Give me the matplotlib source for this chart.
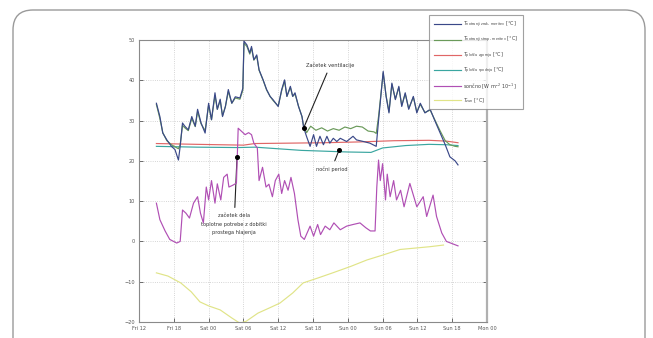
import matplotlib
matplotlib.use("Agg")
import matplotlib.pyplot as plt
from matplotlib.patches import FancyBboxPatch

# ---- data (hours since Fri 12:00) ----
tick_hours = [0, 6, 12, 18, 24, 30, 36, 42, 48, 54, 60]
tick_labels = ["Fri 12", "Fri 18", "Sat 00", "Sat 06", "Sat 12", "Sat 18",
               "Sun 00", "Sun 06", "Sun 12", "Sun 18", "Mon 00"]

t_zrak = [3.0, 3.6, 4.1, 4.8, 5.6, 6.2, 6.8, 7.1, 7.5, 7.9, 8.5, 9.1, 9.7, 10.1,
          10.7, 11.4, 12.0, 12.5, 13.1, 13.5, 14.0, 14.4, 14.9, 15.4, 16.0, 16.6,
          17.4, 17.9, 18.1, 18.6, 19.1, 19.4, 19.8, 20.3, 20.7, 21.4, 22.0, 22.6,
          23.1, 24.0, 24.6, 25.1, 25.5, 26.1, 26.5, 26.9, 27.5, 28.1, 28.4, 28.9,
          29.5, 30.1, 30.6, 31.2, 31.8, 32.4, 32.9, 33.5, 34.1, 34.7, 35.8, 36.9,
          37.5, 38.7, 39.8, 40.9, 41.3, 42.1, 42.6, 43.1, 43.6, 44.2, 44.8, 45.3,
          45.9, 46.5, 47.3, 47.9, 48.5, 49.3, 50.2, 51.0, 51.9, 52.8, 53.6, 54.5,
          55.0]
v_zrak = [34.3, 31.0, 26.9, 25.2, 23.6, 22.8, 20.2, 23.6, 29.4, 28.6, 27.7, 31.0,
          28.6, 32.8, 29.4, 26.9, 34.3, 30.2, 36.9, 32.8, 35.3, 31.0, 33.5, 37.7,
          34.3, 35.9, 35.6, 38.0, 49.7, 48.8, 46.8, 48.4, 45.1, 46.3, 42.6, 40.1,
          37.7, 36.0, 35.2, 33.5, 37.7, 40.1, 36.0, 38.5, 36.0, 36.9, 33.5, 31.0,
          28.2, 26.0, 23.6, 26.5, 23.6, 26.1, 24.0, 26.1, 24.4, 25.6, 24.8, 25.6,
          24.8, 26.1, 25.2, 24.8, 24.4, 23.6, 30.0, 42.2, 36.0, 31.9, 39.3, 35.2,
          38.5, 33.5, 36.9, 32.8, 36.0, 31.9, 34.3, 31.9, 32.8, 30.0, 27.0, 24.0,
          21.0, 20.0, 19.0]

t_strop = [3.0, 3.6, 4.1, 4.8, 5.6, 6.2, 6.8, 7.1, 7.5, 7.9, 8.5, 9.1, 9.7, 10.1,
           10.7, 11.4, 12.0, 12.5, 13.1, 13.5, 14.0, 14.4, 14.9, 15.4, 16.0, 16.6,
           17.4, 17.9, 18.1, 18.6, 19.1, 19.4, 19.8, 20.3, 20.7, 21.4, 22.0, 22.6,
           23.1, 24.0, 24.6, 25.1, 25.5, 26.1, 26.5, 26.9, 27.5, 28.1, 28.4, 28.9,
           29.6, 30.5, 31.5, 32.5, 33.5, 34.5, 35.5, 36.5, 37.5, 38.5, 39.5, 40.5,
           40.9, 41.3, 42.1, 42.6, 43.1, 43.6, 44.2, 44.8, 45.3, 45.9, 46.5, 47.3,
           47.9, 48.5, 49.3, 50.2, 51.0, 51.9, 52.8, 53.6, 54.5, 55.0]
v_strop = [34.0, 30.5, 27.0, 25.0, 24.0, 23.5, 23.0, 24.0, 28.8, 28.2, 27.5, 30.5,
           28.5, 32.2, 29.2, 27.5, 33.8, 30.2, 36.2, 32.8, 35.0, 31.2, 33.5, 37.2,
           34.3, 35.6, 35.3, 37.5, 49.2, 48.4, 46.5, 48.0, 45.0, 46.0, 42.5, 40.0,
           37.6, 36.0, 35.0, 33.6, 37.4, 39.8, 36.0, 38.2, 36.0, 36.6, 33.6, 31.0,
           28.4, 27.0, 28.6, 27.6, 28.2, 27.4, 28.0, 27.6, 28.4, 28.0, 28.6, 28.4,
           27.4, 27.2, 26.8, 31.0, 41.8, 36.2, 32.2, 39.0, 35.4, 38.2, 33.8, 36.6,
           33.0, 35.8, 32.2, 34.0, 32.0, 32.6, 30.2, 27.5, 25.0, 24.0, 23.6, 23.5]

t_plosca_zg = [3.0, 10.0, 18.0, 20.0, 26.0, 32.0, 38.0, 44.0, 50.0, 53.0, 55.0]
v_plosca_zg = [24.3, 24.1, 23.9, 24.3, 24.4, 24.5, 24.7, 25.0, 25.1, 24.9, 24.5]

t_plosca_sp = [3.0, 10.0, 17.0, 20.0, 24.0, 28.0, 32.0, 36.0, 40.0, 42.0, 46.0,
               50.0, 53.0, 55.0]
v_plosca_sp = [23.6, 23.4, 23.3, 23.4, 23.0, 22.6, 22.4, 22.2, 22.1, 23.2, 23.8,
               24.1, 24.0, 23.8]

t_sonce = [3.0, 3.6, 4.5, 5.3, 6.5, 7.1, 7.5, 8.1, 8.7, 9.4, 10.1, 10.6, 11.1,
           11.6, 12.0, 12.5, 13.1, 13.5, 14.1, 14.6, 15.2, 15.5, 16.1, 16.6, 16.8,
           17.1, 17.7, 18.3, 18.9, 19.4, 19.8, 20.4, 20.7, 21.3, 21.9, 22.4, 23.0,
           23.5, 24.1, 24.6, 25.1, 25.7, 26.2, 26.8, 27.4, 27.9, 28.5, 29.5, 30.1,
           30.8, 31.3, 32.1, 32.9, 33.6, 34.7, 35.8, 36.9, 38.1, 39.1, 39.9, 40.7,
           41.0, 41.3, 41.6, 42.0, 42.5, 42.8, 43.3, 43.9, 44.4, 45.1, 45.7, 46.7,
           47.9, 49.0, 49.6, 50.7, 51.3, 52.2, 53.0, 55.0]
v_sonce = [9.5, 5.4, 2.6, 0.5, -0.4, 0.0, 7.8, 7.0, 5.8, 9.5, 11.1, 7.0, 4.6,
           13.5, 10.3, 15.1, 9.5, 14.3, 10.3, 15.9, 16.7, 13.5, 13.9, 14.3, 14.5,
           28.1, 27.3, 26.5, 27.0, 26.5, 24.4, 23.2, 15.1, 18.4, 13.5, 14.2, 11.1,
           15.1, 16.7, 11.9, 15.1, 12.7, 15.9, 11.9, 5.4, 1.3, 0.5, 3.8, 1.3, 4.2,
           1.7, 3.8, 2.9, 4.6, 2.9, 3.8, 4.2, 4.6, 3.4, 2.6, 2.6, 13.5, 20.2, 15.1,
           19.3, 10.3, 16.7, 11.1, 15.1, 10.3, 12.7, 8.6, 14.4, 8.6, 11.1, 6.2, 11.5,
           6.2, 2.1, 0.0, -1.1]

t_zun = [3.0, 5.0, 7.2, 9.0, 10.5, 12.0, 14.0, 16.0, 17.4, 18.5, 20.5, 22.5, 24.3,
         26.5, 28.3, 31.0, 33.4, 36.5, 39.3, 42.0, 45.0, 48.0, 50.2, 52.5]
v_zun = [-7.8, -8.6, -10.3, -12.5, -15.0, -16.0, -17.0, -19.0, -20.3, -19.8,
         -17.8, -16.5, -15.3, -12.8, -10.3, -9.0, -7.8, -6.2, -4.6, -3.4, -2.0,
         -1.6, -1.3, -0.9]

labels = [r"$T_{\mathrm{notranji\ zrak,\ meritev}}$ [°C]",
          r"$T_{\mathrm{notranji\ strop,\ meritev}}$ [°C]",
          r"$T_{\mathrm{plošča\ zgornja}}$ [°C]",
          r"$T_{\mathrm{plošča\ spodnja}}$ [°C]",
          r"sončno [W m$^{-2}$ 10$^{-1}$]",
          r"$T_{\mathrm{zun}}$ [°C]"]
colors = ["#3a4888", "#6a9a5a", "#e06666", "#3aa6a0", "#b04fb4", "#e0e488"]
z_order = [9, 8, 4, 5, 6, 3]

W, H = 653, 338
fig = plt.figure(figsize=(W / 100, H / 100), dpi=100)
fig.patch.set_facecolor("white")

# rounded panel frame (outline only, behind everything)
frame = FancyBboxPatch((13 / W, -0.2), (645 - 13) / W, 0.2 + (H - 10) / H,
                       boxstyle="round,pad=0,rounding_size=%f" % (20 / W),
                       mutation_aspect=W / H,
                       transform=fig.transFigure, facecolor="none",
                       edgecolor="#9a9a9a", linewidth=1.0, zorder=-5)
fig.patches.append(frame)

ax = fig.add_axes([139 / W, (H - 322) / H, 348 / W, 282 / H])
ax.set_facecolor("white")

series = [(t_zrak, v_zrak), (t_strop, v_strop), (t_plosca_zg, v_plosca_zg),
          (t_plosca_sp, v_plosca_sp), (t_sonce, v_sonce), (t_zun, v_zun)]
handles = []
for i, (t, v) in enumerate(series):
    (h,) = ax.plot(t, v, color=colors[i], lw=0.85, label=labels[i],
                   zorder=z_order[i])
    handles.append(h)

ax.set_xlim(0, 60)
ax.set_ylim(-20, 50)
ax.set_xticks(tick_hours)
ax.set_xticklabels(tick_labels)
ax.set_yticks(range(-20, 51, 10))
ax.tick_params(direction="in", length=3, width=0.6, labelsize=3.6,
               colors="#555555", pad=3, top=False, right=True)
ax.grid(True, color="#c8c8c8", linestyle=":", linewidth=0.6)
for s in ax.spines.values():
    s.set_color("#8a8a8a")
    s.set_linewidth(0.8)
ax.spines["right"].set_linewidth(1.6)
ax.spines["right"].set_color("#b0b0b0")

# annotations with marker dots
ann_kw = dict(fontsize=3.6, color="#333333", ha="center", va="center",
              arrowprops=dict(arrowstyle="-", color="#222222", lw=0.8,
                              shrinkA=2, shrinkB=0))
ax.annotate("Začetek ventilacije", xy=(28.4, 28.2), xytext=(33.0, 43.8), **ann_kw)
ax.annotate("začetek dela\ntoplotne potrebe z dobitki\nprostega hlajenja",
            xy=(16.9, 21.0), xytext=(16.4, 4.3), linespacing=1.9, **ann_kw)
ax.annotate("nočni period", xy=(34.5, 22.7), xytext=(33.2, 18.0), **ann_kw)
ax.plot([28.4, 16.9, 34.5], [28.2, 21.0, 22.7], "o", color="black", ms=2.6,
        zorder=20)

leg = fig.legend(handles=handles, labels=labels, loc="upper left",
                 bbox_to_anchor=(427 / W, 1 - 13 / H), fontsize=3.5,
                 frameon=True, fancybox=False, handlelength=5.6,
                 labelspacing=1.05, borderpad=0.9, handletextpad=0.5,
                 labelcolor="#444444")
leg.get_frame().set_edgecolor("#8a8a8a")
leg.get_frame().set_linewidth(0.8)
leg.set_zorder(30)

fig.savefig("out.png", dpi=100)
